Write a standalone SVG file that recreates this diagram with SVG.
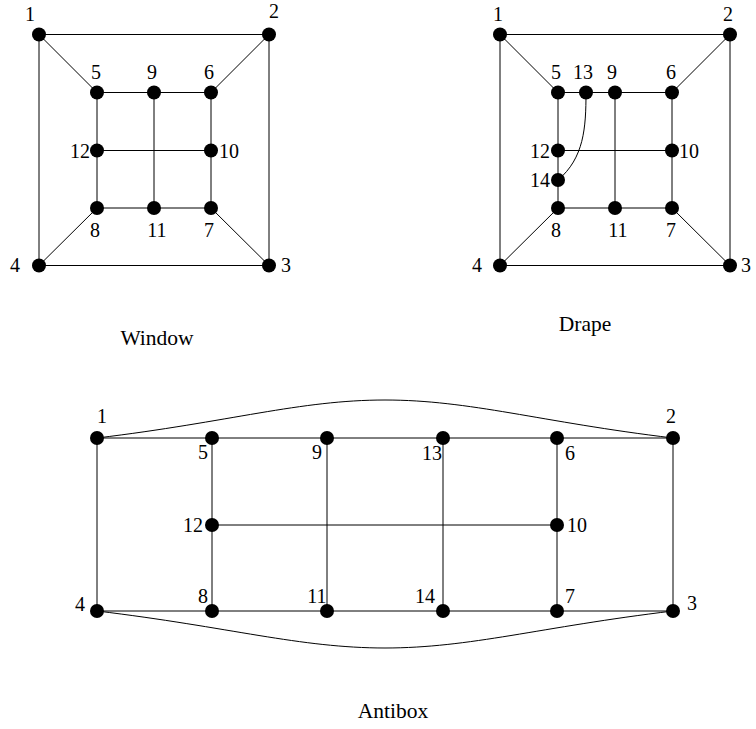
<svg xmlns="http://www.w3.org/2000/svg" width="756" height="729" viewBox="0 0 756 729">
<style>
.e{stroke:#000;stroke-width:1;fill:none}
text{font-family:'Liberation Serif','Times New Roman',Times,serif;fill:#000;text-anchor:middle}
.l{font-size:20px}
.c{font-size:21.5px}
</style>
<defs><circle id="dot" r="7"/></defs>
<rect width="756" height="729" fill="#fff"/>
<g id="connectors" class="e">
<path d="M39,34.5H269V265.5H39Z"/>
<path d="M39,34.5L97,92.5M269,34.5L211,92.5M269,265.5L211,208M39,265.5L97,208"/>
<path d="M97,92.5H211V208H97Z"/>
<path d="M154,92.5V208M97,150.5H211"/>
<path d="M500,34.5H730V265.5H500Z"/>
<path d="M500,34.5L558,92.5M730,34.5L672,92.5M730,265.5L672,208M500,265.5L558,208"/>
<path d="M558,92.5H672V208H558Z"/>
<path d="M615,92.5V208M558,150.5H672"/>
<path d="M586,92.5C586,128 584,158 558,180"/>
<path d="M97,438H673V611H97Z"/>
<path d="M212,438V611M327,438V611M443,438V611M557,438V611M212,525H557"/>
<path d="M97,438C230,422 300,400 385,400C470,400 540,422 673,438"/>
<path d="M97,611C230,627 300,648 385,648C470,648 540,627 673,611"/>
</g>
<g id="window">
<g id="w1"><use href="#dot" x="39" y="34.5"/><text class="l" x="30" y="21">1</text></g>
<g id="w2"><use href="#dot" x="269" y="34.5"/><text class="l" x="274" y="18">2</text></g>
<g id="w3"><use href="#dot" x="269" y="265.5"/><text class="l" x="286" y="272">3</text></g>
<g id="w4"><use href="#dot" x="39" y="265.5"/><text class="l" x="15" y="272">4</text></g>
<g id="w5"><use href="#dot" x="97" y="92.5"/><text class="l" x="96" y="79">5</text></g>
<g id="w9"><use href="#dot" x="154" y="92.5"/><text class="l" x="152" y="79">9</text></g>
<g id="w6"><use href="#dot" x="211" y="92.5"/><text class="l" x="209" y="79">6</text></g>
<g id="w12"><use href="#dot" x="97" y="150.5"/><text class="l" x="80" y="158">12</text></g>
<g id="w10"><use href="#dot" x="211" y="150.5"/><text class="l" x="229" y="158">10</text></g>
<g id="w8"><use href="#dot" x="97" y="208"/><text class="l" x="95" y="237">8</text></g>
<g id="w11"><use href="#dot" x="154" y="208"/><text class="l" x="157" y="237">11</text></g>
<g id="w7"><use href="#dot" x="211" y="208"/><text class="l" x="209" y="237">7</text></g>
<text class="c" x="157" y="344.5">Window</text>
</g>
<g id="drape">
<g id="d1"><use href="#dot" x="500" y="34.5"/><text class="l" x="498" y="20.5">1</text></g>
<g id="d2"><use href="#dot" x="730" y="34.5"/><text class="l" x="728" y="20.5">2</text></g>
<g id="d3"><use href="#dot" x="730" y="265.5"/><text class="l" x="746" y="272">3</text></g>
<g id="d4"><use href="#dot" x="500" y="265.5"/><text class="l" x="477" y="272">4</text></g>
<g id="d5"><use href="#dot" x="558" y="92.5"/><text class="l" x="556" y="79">5</text></g>
<g id="d13"><use href="#dot" x="586" y="92.5"/><text class="l" x="583" y="79">13</text></g>
<g id="d9"><use href="#dot" x="615" y="92.5"/><text class="l" x="612" y="79">9</text></g>
<g id="d6"><use href="#dot" x="672" y="92.5"/><text class="l" x="671" y="79">6</text></g>
<g id="d12"><use href="#dot" x="558" y="150.5"/><text class="l" x="540" y="158">12</text></g>
<g id="d14"><use href="#dot" x="558" y="180"/><text class="l" x="540" y="187">14</text></g>
<g id="d10"><use href="#dot" x="672" y="150.5"/><text class="l" x="689" y="158">10</text></g>
<g id="d8"><use href="#dot" x="558" y="208"/><text class="l" x="556" y="237">8</text></g>
<g id="d11"><use href="#dot" x="615" y="208"/><text class="l" x="618" y="237">11</text></g>
<g id="d7"><use href="#dot" x="672" y="208"/><text class="l" x="671" y="237">7</text></g>
<text class="c" x="585" y="331">Drape</text>
</g>
<g id="antibox">
<g id="a1"><use href="#dot" x="97" y="438"/><text class="l" x="102" y="423">1</text></g>
<g id="a5"><use href="#dot" x="212" y="438"/><text class="l" x="203" y="459">5</text></g>
<g id="a9"><use href="#dot" x="327" y="438"/><text class="l" x="317" y="459">9</text></g>
<g id="a13"><use href="#dot" x="443" y="438"/><text class="l" x="432" y="460">13</text></g>
<g id="a6"><use href="#dot" x="557" y="438"/><text class="l" x="570" y="460">6</text></g>
<g id="a2"><use href="#dot" x="673" y="438"/><text class="l" x="671" y="423">2</text></g>
<g id="a12"><use href="#dot" x="212" y="525"/><text class="l" x="193" y="532">12</text></g>
<g id="a10"><use href="#dot" x="557" y="525"/><text class="l" x="577" y="532">10</text></g>
<g id="a4"><use href="#dot" x="97" y="611"/><text class="l" x="80" y="611">4</text></g>
<g id="a8"><use href="#dot" x="212" y="611"/><text class="l" x="203" y="603">8</text></g>
<g id="a11"><use href="#dot" x="327" y="611"/><text class="l" x="317" y="603">11</text></g>
<g id="a14"><use href="#dot" x="443" y="611"/><text class="l" x="425" y="603">14</text></g>
<g id="a7"><use href="#dot" x="557" y="611"/><text class="l" x="570" y="603">7</text></g>
<g id="a3"><use href="#dot" x="673" y="611"/><text class="l" x="692" y="610">3</text></g>
<text class="c" x="393" y="718">Antibox</text>
</g>
</svg>
